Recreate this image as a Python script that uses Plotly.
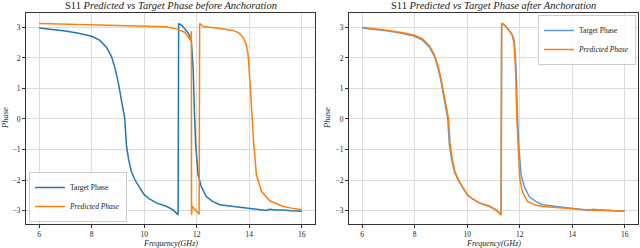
import plotly.graph_objects as go

# ---- data ----
target_freq = [6.0, 6.5, 7.0, 7.5, 8.0, 8.3, 8.56, 8.75, 8.88, 9.0, 9.07, 9.15, 9.26, 9.32, 9.4, 9.51, 9.65, 9.83, 10.0, 10.2, 10.46, 10.84, 11.1, 11.29,
               11.31, 11.45, 11.6, 11.7, 11.79, 11.86, 11.92, 11.96, 12.05, 12.17, 12.36, 12.6, 12.87, 13.38, 14.0, 14.4, 14.65, 14.78, 15.0, 15.28, 15.6, 16.0]
target_phase = [2.98, 2.94, 2.88, 2.81, 2.71, 2.58, 2.35, 2.05, 1.69, 1.25, 0.93, 0.5, 0.0, -0.84, -1.3, -1.72, -2.0, -2.26, -2.48, -2.62, -2.75, -2.86, -2.98, -3.14,
                3.13, 3.05, 2.9, 2.78, 2.57, 1.69, 0.0, -0.84, -1.83, -2.21, -2.54, -2.7, -2.81, -2.86, -2.94, -2.97, -3.0, -2.96, -2.98, -2.98, -3.01, -3.02]

pred_before_freq = [6.0, 7.0, 8.0, 9.0, 10.0, 10.84, 11.22, 11.54, 11.73, 11.77, 11.795, 11.80, 11.83, 11.98, 12.09,
                    12.11, 12.24, 12.75, 13.38, 13.6, 13.76, 13.88, 13.95, 14.03, 14.11, 14.16, 14.27, 14.46, 14.78, 15.28, 15.6, 16.0]
pred_before_phase = [3.13, 3.11, 3.09, 3.08, 3.06, 3.02, 2.95, 2.84, 2.62, 2.57, 2.87, -3.14, -2.86, -3.0, -3.12,
                     3.13, 3.03, 2.98, 2.9, 2.82, 2.68, 2.45, 2.13, 1.15, 0.0, -0.73, -1.83, -2.37, -2.68, -2.86, -2.92, -2.97]

pred_after_freq = [6.0, 6.5, 7.0, 7.5, 8.0, 8.3, 8.56, 8.75, 8.9, 9.02, 9.1, 9.18, 9.29, 9.35, 9.43, 9.53, 9.67, 9.85, 10.0, 10.2, 10.46, 10.84, 11.1, 11.29,
                   11.31, 11.45, 11.6, 11.7, 11.78, 11.84, 11.89, 11.93, 12.0, 12.1, 12.3, 12.6, 12.87, 13.38, 14.0, 14.4, 14.65, 14.78, 15.0, 15.28, 15.6, 16.0]
pred_after_phase = [3.0, 2.96, 2.9, 2.83, 2.74, 2.62, 2.4, 2.1, 1.7, 1.25, 0.93, 0.5, 0.0, -0.84, -1.3, -1.72, -2.0, -2.26, -2.48, -2.62, -2.75, -2.86, -2.98, -3.14,
                    3.14, 3.06, 2.9, 2.76, 2.5, 1.6, 0.0, -0.9, -1.95, -2.4, -2.7, -2.82, -2.87, -2.9, -2.95, -2.98, -3.0, -2.99, -2.99, -3.0, -3.01, -3.02]

x_ticks = [6, 8, 10, 12, 14, 16]
y_ticks = [-3, -2, -1, 0, 1, 2, 3]

BLUE = "#1f77b4"
ORANGE = "#ff7f0e"
FONT = "Liberation Serif"

fig = go.Figure()
fig.add_trace(go.Scatter(x=target_freq, y=target_phase, mode="lines", name="Target Phase",
                         line=dict(color=BLUE, width=1.5), xaxis="x", yaxis="y", legend="legend"))
fig.add_trace(go.Scatter(x=pred_before_freq, y=pred_before_phase, mode="lines", name="<i>Predicted Phase</i>",
                         line=dict(color=ORANGE, width=1.5), xaxis="x", yaxis="y", legend="legend"))
fig.add_trace(go.Scatter(x=target_freq, y=target_phase, mode="lines", name="Target Phase",
                         line=dict(color="#5b9bd5", width=1.5), xaxis="x2", yaxis="y2", legend="legend2"))
fig.add_trace(go.Scatter(x=pred_after_freq, y=pred_after_phase, mode="lines", name="<i>Predicted Phase</i>",
                         line=dict(color=ORANGE, width=1.5), xaxis="x2", yaxis="y2", legend="legend2"))

axis_common = dict(showgrid=True, gridcolor="#dcdcdc", gridwidth=1, zeroline=False,
                   showline=True, linecolor="#333333", linewidth=1, mirror=True,
                   ticks="outside", ticklen=3, tickcolor="#333333",
                   tickfont=dict(family=FONT, size=7.5, color="#222222"))

ydom = [1 - 224 / 248, 1 - 13 / 248]
L = (26 / 640, 315 / 640)
R = (349 / 640, 638 / 640)


def text_ann(text, x, y, size, angle=0):
    return dict(text=text, x=x, y=y, xref="paper", yref="paper", showarrow=False,
                xanchor="center", yanchor="middle", textangle=angle,
                font=dict(family=FONT, size=size, color="#222222"))


fig.update_layout(
    width=640, height=248,
    margin=dict(l=0, r=0, t=0, b=0),
    paper_bgcolor="white", plot_bgcolor="white",
    font=dict(family=FONT, color="#222222"),
    xaxis=dict(domain=list(L), range=[5.5, 16.5], tickvals=x_ticks, anchor="y", **axis_common),
    yaxis=dict(domain=ydom, range=[-3.44, 3.47], tickvals=y_ticks, anchor="x", **axis_common),
    xaxis2=dict(domain=list(R), range=[5.5, 16.5], tickvals=x_ticks, anchor="y2", **axis_common),
    yaxis2=dict(domain=ydom, range=[-3.44, 3.47], tickvals=y_ticks, anchor="x2", **axis_common),
    legend=dict(x=29 / 640, y=1 - 222 / 248, xanchor="left", yanchor="bottom",
                bgcolor="rgba(255,255,255,0.85)", bordercolor="#cccccc", borderwidth=1,
                font=dict(family=FONT, size=7.5), tracegroupgap=0, itemwidth=30),
    legend2=dict(x=636 / 640, y=1 - 15 / 248, xanchor="right", yanchor="top",
                 bgcolor="rgba(255,255,255,0.85)", bordercolor="#cccccc", borderwidth=1,
                 font=dict(family=FONT, size=7.5), tracegroupgap=0, itemwidth=30),
    annotations=[
        text_ann("S11 <i>Predicted vs Target Phase before Anchoration</i>", sum(L) / 2, 1 - 6 / 248, 10.5),
        text_ann("S11 <i>Predicted vs Target Phase after Anchoration</i>", sum(R) / 2, 1 - 6 / 248, 10.5),
        text_ann("<i>Frequency(GHz)</i>", sum(L) / 2, 1 - 243 / 248, 8),
        text_ann("<i>Frequency(GHz)</i>", sum(R) / 2, 1 - 243 / 248, 8),
        text_ann("<i>Phase</i>", 5 / 640, 1 - 118 / 248, 8.5, -90),
        text_ann("<i>Phase</i>", 327 / 640, 1 - 118 / 248, 8.5, -90),
    ],
)

fig.write_html("out.html", config={"displayModeBar": False},
               post_script="document.body.style.margin='0';document.body.style.overflow='hidden';")
